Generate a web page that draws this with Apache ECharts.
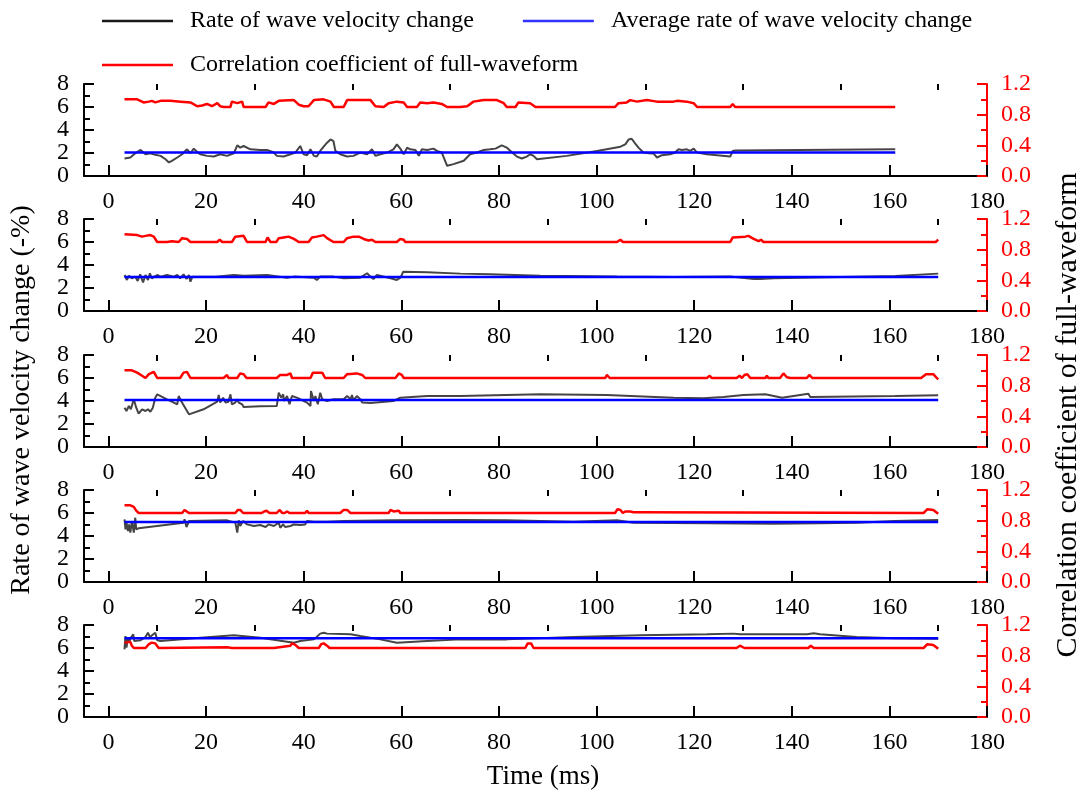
<!DOCTYPE html>
<html>
<head>
<meta charset="utf-8">
<script src="https://cdn.jsdelivr.net/npm/echarts@6/dist/echarts.min.js"></script>
<style>html,body{margin:0;padding:0;background:#fff}#c{width:1086px;height:801px}</style>
</head>
<body>
<div id="c"></div>
<script>
// ---------- DATA ----------
const xMajorTicks = [0, 20, 40, 60, 80, 100, 120, 140, 160, 180];
const xMinorTicks = [10, 30, 50, 70, 90, 110, 130, 150, 170];
const leftTicksA = [0, 4, 8];
const leftTicksB = [2, 6];
const rightTicks = [0, 0.4, 0.8, 1.2];
const seriesNames = ['Rate of wave velocity change', 'Average rate of wave velocity change', 'Correlation coefficient of full-waveform'];
const avgRate = [2.04, 2.96, 4.08, 5.22, 6.84];
const avgStart = [3.3, 3.3, 3.3, 3.3, 3.3];
const avgEnd = [161.2, 170, 170, 170, 170];

const p1Rate = [[3.3,1.52],[4.5,1.61],[5.5,1.98],[6.6,2.27],[7.6,1.89],[8.6,1.98],[9.6,1.84],[10.7,1.75],[11.7,1.46],[12.4,1.18],[13.0,1.32],[14.1,1.61],[15.1,1.89],[16.1,2.32],[16.8,1.98],[17.5,2.38],[18.2,2.09],[18.8,1.89],[20.2,1.75],[21.6,1.69],[22.9,1.89],[24.3,1.75],[25.7,1.98],[26.4,2.67],[27.0,2.47],[27.7,2.61],[29.1,2.32],[31.1,2.27],[32.5,2.27],[33.9,2.04],[34.5,1.75],[35.9,1.69],[37.3,1.89],[38.3,2.04],[39.3,2.61],[40.0,1.89],[40.7,1.81],[41.4,2.32],[42.1,1.75],[42.7,1.69],[43.4,2.18],[44.1,2.55],[44.8,2.90],[45.5,3.18],[46.1,3.04],[46.5,2.18],[47.5,1.89],[48.9,1.69],[50.2,1.75],[51.6,2.04],[53.0,1.89],[54.0,2.32],[54.7,1.75],[55.7,1.89],[57.1,2.04],[58.4,2.32],[59.1,2.75],[59.8,2.38],[60.5,1.89],[61.2,2.47],[61.8,2.32],[62.9,2.27],[63.6,1.75],[64.2,2.32],[65.3,2.27],[66.6,2.38],[67.3,2.18],[68.3,2.04],[69.4,0.89],[70.7,1.03],[72.8,1.32],[74.1,1.89],[75.5,2.04],[76.9,2.27],[78.2,2.32],[79.3,2.38],[80.6,2.67],[81.6,2.47],[82.7,2.04],[83.7,1.69],[84.7,1.52],[85.7,1.69],[86.4,1.89],[87.1,1.75],[87.8,1.46],[93.9,1.75],[100.1,2.18],[104.9,2.55],[105.9,2.75],[106.6,3.18],[107.2,3.24],[107.9,2.84],[108.6,2.47],[109.6,2.04],[110.7,1.98],[111.7,1.95],[112.4,1.61],[113.4,1.81],[115.1,1.89],[116.1,2.04],[116.8,2.32],[117.5,2.27],[118.5,2.32],[119.2,2.18],[119.9,2.38],[120.6,2.04],[122.6,1.89],[127.4,1.69],[127.9,2.18],[128.4,2.22],[161.2,2.32]];
const p1Corr = [[3.3,1.00],[5.9,1.00],[7.2,0.96],[8.3,0.97],[8.9,0.98],[9.6,0.96],[10.7,0.98],[12.7,0.98],[14.8,0.97],[16.8,0.96],[18.2,0.91],[19.2,0.92],[20.2,0.94],[21.2,0.91],[22.3,0.95],[22.9,0.91],[23.6,0.90],[25.0,0.90],[25.3,0.97],[26.4,0.95],[27.4,0.97],[27.7,0.90],[32.2,0.90],[32.8,0.96],[33.9,0.94],[34.9,0.98],[38.0,0.99],[39.0,0.93],[40.0,0.91],[41.0,0.91],[42.1,0.99],[44.1,1.00],[45.5,0.97],[46.2,0.90],[48.2,0.90],[48.9,0.99],[51.6,0.99],[53.7,0.99],[54.7,0.91],[56.4,0.90],[57.4,0.95],[59.1,0.97],[60.5,0.96],[61.2,0.90],[63.2,0.90],[63.9,0.96],[65.3,0.95],[66.6,0.96],[68.3,0.94],[69.4,0.90],[72.1,0.90],[73.5,0.91],[74.8,0.97],[76.9,0.99],[79.6,0.99],[81.0,0.95],[81.6,0.90],[83.4,0.90],[84.0,0.96],[86.4,0.95],[87.5,0.90],[103.8,0.90],[104.5,0.95],[106.2,0.96],[106.9,0.99],[108.3,0.97],[110.3,0.99],[112.4,0.97],[115.8,0.97],[116.5,0.98],[118.5,0.97],[119.9,0.95],[120.6,0.90],[127.4,0.90],[127.9,0.94],[128.4,0.90],[161.2,0.90]];

const p2Rate = [[3.3,3.13],[3.8,2.70],[4.2,3.07],[4.8,2.84],[5.5,2.99],[6.0,2.61],[6.5,3.19],[7.1,2.49],[7.6,3.13],[8.1,2.70],[8.5,3.28],[8.9,2.84],[9.4,2.99],[10.0,3.13],[10.7,2.99],[12.0,3.13],[13.4,2.99],[14.1,3.13],[14.7,2.84],[15.4,3.19],[16.0,2.78],[16.5,3.13],[16.8,2.55],[17.2,2.97],[22.0,2.97],[22.3,3.13],[25.7,3.13],[27.7,3.07],[32.5,3.13],[36.6,2.90],[38.0,2.99],[42.1,2.90],[42.7,2.70],[43.4,2.99],[46.1,2.99],[48.2,2.84],[51.6,2.90],[53.0,3.28],[53.7,2.99],[54.3,2.78],[55.0,3.13],[57.8,2.84],[59.1,2.70],[59.8,2.90],[60.1,3.13],[60.4,3.42],[65.3,3.36],[72.1,3.25],[78.2,3.19],[88.5,3.07],[104.2,2.99],[115.8,2.96],[127.4,2.99],[132.2,2.78],[133.5,2.78],[136.3,2.84],[161.2,3.04],[170,3.25]];
const p2Corr = [[3.3,1.00],[5.9,0.99],[6.9,0.97],[7.6,0.98],[8.6,0.99],[9.3,0.97],[10.0,0.90],[12.0,0.90],[13.0,0.91],[13.4,0.90],[14.4,0.90],[15.1,0.95],[16.1,0.94],[16.8,0.90],[22.3,0.90],[22.8,0.93],[23.3,0.90],[25.3,0.90],[26.0,0.97],[27.7,0.98],[28.4,0.90],[32.2,0.90],[32.6,0.96],[33.2,0.90],[34.4,0.90],[34.9,0.95],[35.9,0.96],[36.9,0.97],[38.0,0.94],[39.0,0.90],[41.0,0.90],[41.7,0.96],[42.7,0.97],[44.1,0.99],[44.8,0.95],[46.1,0.90],[48.2,0.90],[48.9,0.95],[50.2,0.97],[51.3,0.97],[52.3,0.94],[53.3,0.92],[54.0,0.93],[54.7,0.90],[59.1,0.90],[59.8,0.94],[60.5,0.93],[60.8,0.90],[104.2,0.90],[104.9,0.93],[105.4,0.90],[127.4,0.90],[127.9,0.96],[130.5,0.97],[131.1,0.98],[132.2,0.94],[133.2,0.91],[133.7,0.93],[134.2,0.90],[169.5,0.90],[170,0.93]];

const p3Rate = [[3.3,3.42],[3.7,3.13],[4.2,3.57],[4.6,3.28],[5.2,4.15],[5.7,3.42],[6.2,2.90],[6.9,3.28],[7.6,3.13],[8.1,3.28],[8.6,3.07],[9.1,3.42],[9.6,4.29],[10.0,4.58],[10.7,4.43],[12.0,4.15],[13.4,3.86],[14.1,3.71],[14.4,4.43],[14.9,4.00],[16.5,2.84],[19.5,3.28],[22.3,3.94],[22.6,4.52],[22.9,3.86],[23.5,4.29],[24.0,3.86],[24.6,3.94],[25.0,4.58],[25.3,3.71],[26.0,3.86],[26.4,4.15],[26.7,3.86],[27.4,3.71],[27.7,3.48],[31.1,3.54],[34.5,3.57],[34.9,4.72],[35.4,4.29],[35.8,4.58],[36.0,4.00],[36.6,4.43],[37.1,3.71],[37.6,4.43],[38.6,4.29],[39.3,4.15],[40.7,3.86],[41.4,3.57],[41.5,4.87],[42.1,4.00],[42.4,4.43],[42.9,3.71],[43.4,4.72],[43.8,4.15],[44.8,4.00],[46.1,4.15],[48.2,4.15],[48.9,4.43],[49.6,4.15],[49.9,4.52],[50.2,4.06],[50.9,4.43],[51.6,4.15],[52.0,3.86],[53.7,3.83],[58.4,4.00],[59.8,4.29],[59.9,4.43],[65.3,4.43],[72.1,4.43],[88.5,4.58],[102.1,4.52],[115.8,4.29],[121.9,4.23],[126.0,4.35],[130.1,4.52],[134.6,4.58],[138.0,4.29],[143.4,4.64],[143.8,4.35],[161.2,4.43],[170,4.50]];
const p3Corr = [[3.3,1.00],[4.8,1.00],[5.9,0.97],[6.9,0.93],[7.6,0.90],[8.3,0.95],[9.3,0.98],[10.0,0.90],[14.7,0.90],[15.4,0.97],[16.1,0.98],[16.8,0.90],[23.6,0.90],[24.3,0.94],[24.6,0.90],[26.4,0.90],[27.0,0.96],[27.7,0.95],[28.3,0.90],[34.5,0.90],[35.2,0.94],[36.6,0.94],[37.3,0.96],[37.6,0.90],[41.4,0.90],[41.9,0.97],[43.8,0.97],[44.4,0.90],[48.2,0.90],[48.9,0.95],[50.9,0.96],[52.0,0.94],[52.6,0.90],[58.8,0.90],[59.5,0.96],[60.1,0.94],[60.5,0.90],[101.8,0.90],[102.1,0.94],[102.7,0.90],[122.6,0.90],[123.2,0.93],[123.6,0.90],[128.7,0.90],[129.3,0.93],[129.8,0.90],[130.3,0.94],[130.9,0.95],[131.5,0.90],[134.6,0.90],[134.9,0.93],[135.2,0.90],[137.6,0.90],[138.3,0.96],[139.0,0.91],[139.7,0.90],[143.1,0.90],[143.6,0.94],[144.2,0.90],[166.5,0.90],[167.5,0.95],[169.0,0.95],[170,0.88]];

const p4Rate = [[3.3,5.45],[3.5,4.58],[3.7,5.16],[4.0,4.43],[4.2,5.01],[4.5,4.29],[4.8,5.30],[5.2,4.29],[5.5,5.59],[5.7,4.58],[6.2,4.67],[15.4,5.16],[15.6,5.45],[16.0,4.78],[16.5,5.30],[24.3,5.36],[26.0,5.16],[26.4,4.29],[26.7,5.36],[27.0,4.87],[27.6,5.30],[28.4,5.01],[29.8,4.87],[31.1,4.96],[32.2,4.78],[32.8,5.01],[33.9,4.87],[34.9,5.16],[35.2,4.72],[35.8,5.01],[36.2,4.78],[37.3,4.87],[38.0,5.01],[39.3,4.96],[40.3,5.01],[40.7,5.30],[42.1,5.25],[44.8,5.25],[48.2,5.30],[58.4,5.36],[72.1,5.40],[81.6,5.36],[95.3,5.25],[104.2,5.36],[107.6,5.16],[122.6,5.10],[136.3,5.07],[145.8,5.10],[153.3,5.16],[161.2,5.30],[170,5.40]];
const p4Corr = [[3.3,1.00],[4.5,1.00],[5.2,0.98],[5.7,0.93],[6.2,0.90],[15.1,0.90],[15.6,0.94],[16.0,0.95],[16.5,0.90],[26.0,0.90],[26.5,0.94],[27.0,0.94],[27.6,0.90],[31.4,0.90],[31.9,0.92],[32.4,0.93],[33.0,0.90],[34.5,0.90],[35.1,0.94],[35.6,0.90],[36.1,0.90],[36.6,0.92],[37.1,0.90],[40.3,0.90],[40.7,0.93],[41.0,0.90],[47.5,0.90],[48.2,0.94],[48.9,0.94],[49.6,0.90],[57.4,0.90],[57.8,0.94],[58.4,0.92],[59.5,0.93],[59.8,0.90],[103.8,0.90],[104.3,0.95],[104.9,0.94],[105.4,0.90],[105.9,0.92],[106.9,0.92],[107.6,0.91],[108.3,0.91],[108.6,0.90],[167.0,0.90],[167.8,0.95],[169.0,0.94],[170,0.89]];

const p5Rate = [[3.3,5.88],[3.5,7.04],[3.7,6.03],[4.0,6.90],[4.2,6.46],[4.6,6.90],[5.1,7.19],[5.3,6.61],[6.6,6.67],[7.6,6.96],[8.1,7.33],[8.5,6.96],[9.6,7.33],[10.0,6.67],[10.7,6.61],[17.5,6.84],[25.7,7.10],[31.1,6.90],[38.0,6.46],[39.3,6.61],[42.1,6.75],[43.4,7.25],[44.1,7.33],[44.8,7.25],[49.6,7.19],[51.6,7.04],[55.7,6.75],[59.1,6.46],[65.3,6.61],[72.1,6.75],[81.6,6.75],[95.3,6.96],[109.0,7.10],[122.6,7.19],[128.1,7.25],[129.4,7.19],[143.1,7.19],[144.5,7.28],[145.8,7.19],[153.3,6.96],[161.2,6.84],[170,6.80]];
const p5Corr = [[3.3,0.97],[4.5,0.98],[4.8,0.93],[5.2,0.90],[7.6,0.90],[8.3,0.95],[8.9,0.97],[9.6,0.96],[10.3,0.90],[24.3,0.91],[25.3,0.90],[33.9,0.90],[37.3,0.93],[37.6,0.96],[38.3,0.94],[39.0,0.90],[43.1,0.90],[43.6,0.95],[44.1,0.96],[44.8,0.93],[45.3,0.90],[59.1,0.90],[59.5,0.92],[59.8,0.90],[85.4,0.90],[85.9,0.96],[86.6,0.96],[87.1,0.90],[128.7,0.90],[129.4,0.93],[130.3,0.90],[143.4,0.90],[143.9,0.93],[144.5,0.90],[167.0,0.90],[167.8,0.95],[169.0,0.94],[170,0.89]];

const rateData = [p1Rate, p2Rate, p3Rate, p4Rate, p5Rate];
const corrData = [p1Corr, p2Corr, p3Corr, p4Corr, p5Corr];

// ---------- CHART ----------
const FONT = '"Liberation Serif","Times New Roman",serif';
const panelTops = [84, 219, 355, 490, 625];
const panelH = 92;
const grids = [], xAxes = [], yAxes = [], series = [];
const leftLabel = (vals) => ({margin: 15, color: '#000', fontFamily: FONT, fontSize: 24, customValues: vals,
                              showMinLabel: true, showMaxLabel: true, hideOverlap: false});
for (let i = 0; i < 5; i++) {
  grids.push({left: 84, right: 99, top: panelTops[i], height: panelH});
  xAxes.push({
    type: 'value', gridIndex: i, min: -5, max: 180,
    axisLine: {show: true, onZero: false, lineStyle: {color: '#000', width: 2}},
    axisTick: {show: true, inside: true, length: 11, lineStyle: {color: '#000', width: 2}, customValues: xMajorTicks},
    axisLabel: {show: true, margin: 14, color: '#000', fontFamily: FONT, fontSize: 24, customValues: xMajorTicks},
    splitLine: {show: false}
  });
  xAxes.push({
    type: 'value', gridIndex: i, min: -5, max: 180,
    axisLine: {show: false, onZero: false},
    axisTick: {show: true, inside: true, length: 6, lineStyle: {color: '#000', width: 2}, customValues: xMinorTicks},
    axisLabel: {show: false, customValues: xMinorTicks},
    splitLine: {show: false}
  });
  // left axis (line, ticks, labels 0/4/8)
  yAxes.push({
    type: 'value', gridIndex: i, position: 'left', offset: 0, min: 0, max: 8, interval: 2,
    axisLine: {show: true, onZero: false, lineStyle: {color: '#000', width: 2}},
    axisTick: {show: true, inside: true, length: 10, lineStyle: {color: '#000', width: 2}},
    minorTick: {show: true, splitNumber: 2, length: 6, lineStyle: {color: '#000', width: 2}},
    axisLabel: leftLabel(leftTicksA),
    splitLine: {show: false}
  });
  // right axis
  yAxes.push({
    type: 'value', gridIndex: i, position: 'right', min: 0, max: 1.2, interval: 0.4,
    axisLine: {show: true, onZero: false, lineStyle: {color: '#ff0000', width: 2}},
    axisTick: {show: true, inside: true, length: 10, lineStyle: {color: '#ff0000', width: 2}},
    minorTick: {show: true, splitNumber: 2, length: 6, lineStyle: {color: '#ff0000', width: 2}},
    axisLabel: {margin: 14, color: '#ff0000', fontFamily: FONT, fontSize: 24, formatter: v => v.toFixed(1), customValues: rightTicks,
                showMinLabel: true, showMaxLabel: true, hideOverlap: false},
    splitLine: {show: false}
  });
  // left axis twin (labels 2/6 only)
  yAxes.push({
    type: 'value', gridIndex: i, position: 'left', offset: 0, min: 0, max: 8, interval: 2,
    axisLine: {show: false, onZero: false},
    axisTick: {show: false},
    axisLabel: leftLabel(leftTicksB),
    splitLine: {show: false}
  });
  series.push({
    name: seriesNames[0], type: 'line', xAxisIndex: 2 * i, yAxisIndex: 3 * i,
    data: rateData[i], showSymbol: false, symbol: 'none',
    lineStyle: {color: '#454545', width: 2}, itemStyle: {color: '#454545'}, z: 2
  });
  series.push({
    name: seriesNames[1], type: 'line', xAxisIndex: 2 * i, yAxisIndex: 3 * i,
    data: [[avgStart[i], avgRate[i]], [avgEnd[i], avgRate[i]]], showSymbol: false, symbol: 'none',
    lineStyle: {color: '#0000ff', width: 2.5}, itemStyle: {color: '#0000ff'}, z: 3
  });
  series.push({
    name: seriesNames[2], type: 'line', xAxisIndex: 2 * i, yAxisIndex: 3 * i + 1,
    data: corrData[i], showSymbol: false, symbol: 'none',
    lineStyle: {color: '#ff0000', width: 2.5}, itemStyle: {color: '#ff0000'}, z: 4
  });
}

const legendText = {fontFamily: FONT, fontSize: 24, color: '#000', padding: [0, 0, 0, 12]};
const option = {
  animation: false,
  backgroundColor: '#fff',
  grid: grids,
  xAxis: xAxes,
  yAxis: yAxes,
  series: series,
  legend: [
    {left: 97, top: 4, icon: 'rect', itemWidth: 71, itemHeight: 2.5, itemGap: 49,
     textStyle: legendText,
     data: [{name: seriesNames[0], itemStyle: {color: '#1a1a1a'}}, {name: seriesNames[1], itemStyle: {color: '#3333ff'}}]},
    {left: 97, top: 48, icon: 'rect', itemWidth: 71, itemHeight: 2.5,
     textStyle: legendText,
     data: [{name: seriesNames[2], itemStyle: {color: '#ff0000'}}]}
  ],
  graphic: [
    {type: 'text', x: 22, y: 400, rotation: Math.PI / 2,
     style: {text: 'Rate of wave velocity change (-%)', font: '28px ' + FONT, fill: '#000', align: 'center', verticalAlign: 'middle', textAlign: 'center', textVerticalAlign: 'middle'}},
    {type: 'text', x: 1068, y: 415, rotation: Math.PI / 2,
     style: {text: 'Correlation coefficient of full-waveform', font: '30px ' + FONT, fill: '#000', align: 'center', verticalAlign: 'middle', textAlign: 'center', textVerticalAlign: 'middle'}},
    {type: 'text', x: 543, y: 777,
     style: {text: 'Time (ms)', font: '27px ' + FONT, fill: '#000', align: 'center', verticalAlign: 'middle', textAlign: 'center', textVerticalAlign: 'middle'}}
  ]
};
const chart = echarts.init(document.getElementById('c'), null, {renderer: 'canvas'});
chart.setOption(option);
</script>
</body>
</html>
